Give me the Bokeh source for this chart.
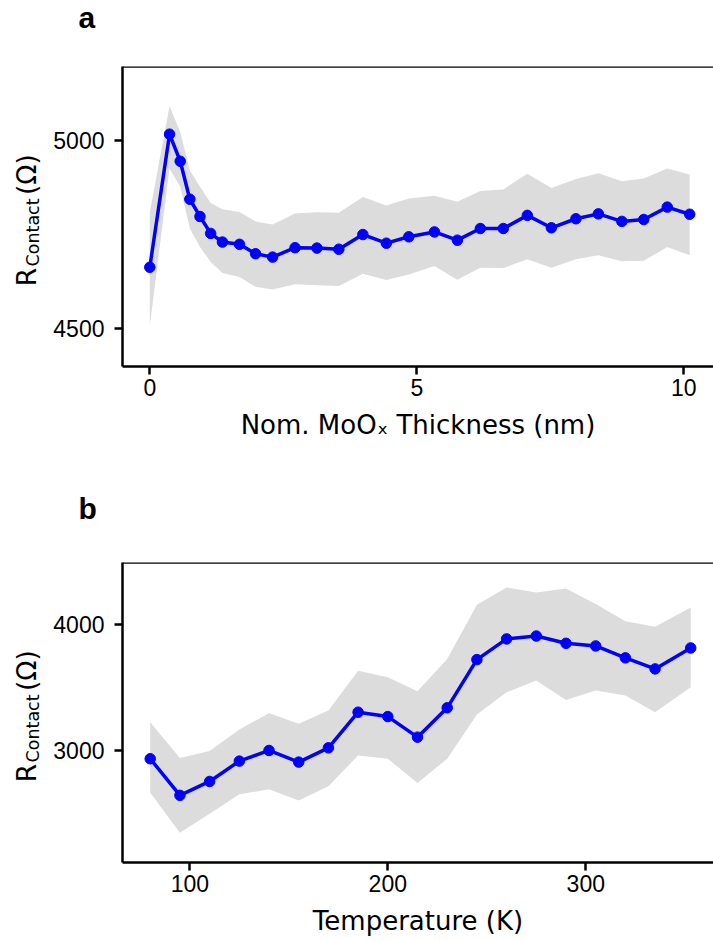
from bokeh.plotting import figure
from bokeh.models import Range1d, FixedTicker, Span
from bokeh.layouts import column, row
from bokeh.embed import file_html
from bokeh.resources import INLINE
from bokeh.core.properties import value

# ---- Panel a: contact resistance vs nominal MoOx thickness ----
thickness = [0.0, 0.37, 0.57, 0.75, 0.94, 1.14, 1.36, 1.68, 1.98, 2.3,
             2.72, 3.13, 3.54, 3.99, 4.43, 4.85, 5.33, 5.76, 6.19, 6.62,
             7.07, 7.52, 7.98, 8.40, 8.84, 9.25, 9.69, 10.11]
r_thick = [4664, 5018, 4946, 4845, 4799, 4754, 4731, 4725, 4700, 4691,
           4716, 4715, 4712, 4751, 4728, 4745, 4758, 4736, 4767, 4767,
           4802, 4769, 4793, 4806, 4786, 4791, 4824, 4805]
r_thick_hi = [4810, 5092, 5024, 4922, 4878, 4835, 4818, 4811, 4786, 4778,
              4807, 4810, 4809, 4851, 4828, 4847, 4854, 4838, 4867, 4871,
              4913, 4875, 4899, 4914, 4893, 4900, 4927, 4911]
r_thick_lo = [4507, 4927, 4878, 4767, 4718, 4678, 4649, 4638, 4612, 4605,
              4619, 4616, 4614, 4647, 4630, 4645, 4667, 4631, 4663, 4662,
              4685, 4663, 4685, 4696, 4680, 4681, 4718, 4696]
a_xticks = [0, 5, 10]
a_yticks = [4500, 5000]

# ---- Panel b: contact resistance vs temperature ----
temperature = [80, 95, 110, 125, 140, 155, 170, 185, 200, 215,
               230, 245, 260, 275, 290, 305, 320, 335, 353]
r_temp = [2934, 2642, 2753, 2915, 3000, 2907, 3021, 3305, 3270, 3106,
          3340, 3724, 3889, 3912, 3854, 3833, 3738, 3650, 3817]
r_temp_hi = [3225, 2939, 2995, 3167, 3297, 3212, 3318, 3636, 3583, 3472,
             3729, 4161, 4299, 4259, 4291, 4167, 4029, 3986, 4140]
r_temp_lo = [2663, 2345, 2496, 2650, 2690, 2602, 2714, 2960, 2934, 2740,
             2934, 3286, 3464, 3557, 3403, 3477, 3438, 3305, 3504]
b_xticks = [100, 200, 300]
b_yticks = [3000, 4000]

ylabel_parts = ["R", "Contact", "(Ω)"]

TICK_FONT = "Liberation Sans"
LABEL_FONT = "DejaVu Sans"
W = 713
LEFT_W = 45
FRAME_H = 300


def blank(width, height, top=0, bottom=0, yr=None):
    f = figure(width=width, height=height,
               x_range=Range1d(0, width),
               y_range=Range1d(*(yr if yr else (0, height))),
               x_axis_type=None, y_axis_type=None,
               output_backend="svg", toolbar_location=None,
               min_border=0, min_border_left=0, min_border_right=0,
               min_border_top=top, min_border_bottom=bottom)
    f.grid.visible = False
    f.outline_line_color = None
    f.background_fill_color = "white"
    f.border_fill_color = "white"
    return f


def letter_strip(letter, height, anchor_from_top):
    f = blank(W, height)
    f.text(x=[78], y=[height - anchor_from_top], text=[letter],
           text_font=value(TICK_FONT), text_font_size="30px",
           text_font_style="bold", text_color="black",
           text_align="left", text_baseline="alphabetic")
    return f


def ylabel_strip(height, top):
    # frame of this strip matches the frame of its panel vertically;
    # y measured in pixels up from the frame bottom
    f = blank(LEFT_W, height, top=top, bottom=height - top - FRAME_H,
              yr=(0, FRAME_H))
    common = dict(angle=90, angle_units="deg", text_color="black",
                  text_align="left", text_baseline="alphabetic",
                  text_font=value(LABEL_FONT))
    f.text(x=[26], y=[80.2], text=[ylabel_parts[0]],
           text_font_size="26.5px", **common)
    f.text(x=[32.5], y=[100.0], text=[ylabel_parts[1]],
           text_font_size="17.5px", **common)
    f.text(x=[26], y=[171.5], text=[ylabel_parts[2]],
           text_font_size="26.5px", **common)
    return f


def make_panel(x, y, lo, hi, xr, yr, xticks, yticks, xlabel, height, top):
    p = figure(width=W - LEFT_W, height=height,
               x_range=Range1d(*xr), y_range=Range1d(*yr),
               output_backend="svg", toolbar_location=None,
               min_border_left=122 - LEFT_W, min_border_right=0,
               min_border_top=top,
               min_border_bottom=height - top - FRAME_H)
    p.grid.visible = False
    p.outline_line_color = None
    p.background_fill_color = "white"
    p.border_fill_color = "white"

    p.varea(x=x, y1=lo, y2=hi, fill_color="#dcdcdc", fill_alpha=1.0)
    p.line(x, y, line_color="#0000ff", line_width=3.5)
    p.scatter(x, y, size=10.5, fill_color="#0000ff", line_color="#0000ff")

    for ax in (p.xaxis[0], p.yaxis[0]):
        ax.axis_line_width = 2.5
        ax.axis_line_color = "black"
        ax.major_tick_line_width = 2.5
        ax.major_tick_line_color = "black"
        ax.major_tick_out = 8
        ax.major_tick_in = 0
        ax.minor_tick_line_color = None
        ax.major_label_text_font = TICK_FONT
        ax.major_label_text_font_size = "23px"
        ax.major_label_text_color = "black"
    p.xaxis.ticker = FixedTicker(ticks=xticks)
    p.yaxis.ticker = FixedTicker(ticks=yticks)
    p.xaxis.major_label_standoff = 4
    p.yaxis.major_label_standoff = 10

    p.xaxis.axis_label = xlabel
    p.xaxis.axis_label_text_font = LABEL_FONT
    p.xaxis.axis_label_text_font_size = "26px"
    p.xaxis.axis_label_text_font_style = "normal"
    p.xaxis.axis_label_text_color = "black"
    p.xaxis.axis_label_standoff = 11

    p.add_layout(Span(location=yr[1], dimension="width",
                      line_color="black", line_width=2.5))
    return p


strip_a = letter_strip("a", 40, 16.5)
main_a = make_panel(thickness, r_thick, r_thick_lo, r_thick_hi,
                    (-0.511, 10.556), (4400, 5198), a_xticks, a_yticks,
                    "Nom. MoOₓ Thickness (nm)", height=450, top=26)
left_a = ylabel_strip(450, 26)

strip_b = letter_strip("b", 50, 18)
main_b = make_panel(temperature, r_temp, r_temp_lo, r_temp_hi,
                    (66.0, 364.5), (2107, 4498), b_xticks, b_yticks,
                    "Temperature (K)", height=401, top=22)
left_b = ylabel_strip(401, 22)

layout = column(strip_a, row(left_a, main_a, spacing=0),
                strip_b, row(left_b, main_b, spacing=0), spacing=0)
open("out.html", "w").write(file_html(layout, INLINE))
